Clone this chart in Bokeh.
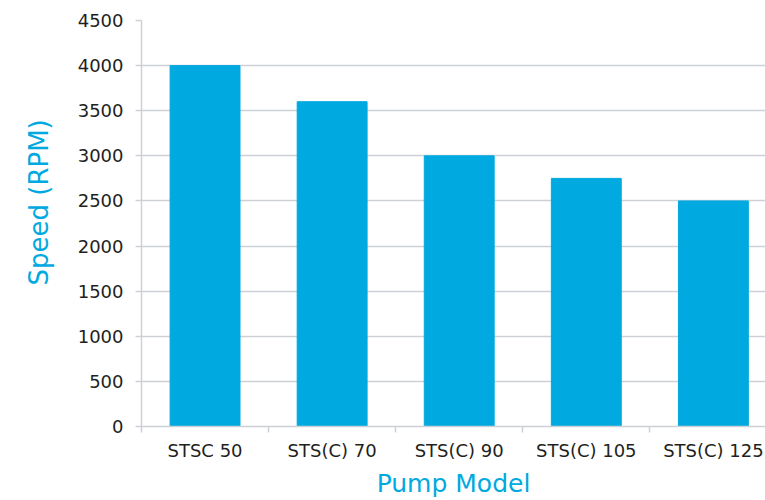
from bokeh.plotting import figure
from bokeh.models import Range1d, FixedTicker, Title
from bokeh.embed import file_html
from bokeh.resources import INLINE

models = ["STSC 50", "STS(C) 70", "STS(C) 90", "STS(C) 105", "STS(C) 125"]
speeds = [4000, 3600, 3000, 2750, 2500]
y_ticks = [0, 500, 1000, 1500, 2000, 2500, 3000, 3500, 4000, 4500]

BLUE = "#00A9E0"
GRAY = "#cdd1d6"
TXT = "#231f20"
FONT = "DejaVu Sans"

xs = list(range(len(models)))

p = figure(width=765, height=500, output_backend="svg", toolbar_location=None,
           x_range=Range1d(-0.5, 4.41), y_range=Range1d(0, 4500),
           min_border_left=140, min_border_top=20, min_border_right=0, min_border_bottom=74)
p.outline_line_color = None
p.background_fill_color = "white"
p.border_fill_color = "white"

p.vbar(x=xs, top=speeds, width=0.55, color=BLUE, line_color=BLUE)

# y axis
ya = p.yaxis[0]
ya.ticker = FixedTicker(ticks=y_ticks)
ya.axis_line_color = GRAY
ya.axis_line_width = 1.5
ya.major_tick_line_color = GRAY
ya.major_tick_line_width = 1.5
ya.major_tick_out = 6
ya.major_tick_in = 0
ya.minor_tick_line_color = None
ya.major_label_standoff = 12
ya.major_label_text_font = FONT
ya.major_label_text_font_size = "18px"
ya.major_label_text_color = TXT

ytitle = Title(text="Speed (RPM)", align="left", offset=141, standoff=42,
               text_font=FONT, text_font_size="26px", text_font_style="normal",
               text_color=BLUE)
p.add_layout(ytitle, "left")

# x axis
xa = p.xaxis[0]
xa.ticker = FixedTicker(ticks=xs, minor_ticks=[i - 0.5 for i in range(len(models) + 1)])
xa.major_label_overrides = {i: m for i, m in enumerate(models)}
xa.axis_line_color = GRAY
xa.axis_line_width = 1.5
xa.major_tick_line_color = None
xa.major_tick_out = 0
xa.major_tick_in = 0
xa.minor_tick_line_color = GRAY
xa.minor_tick_line_width = 1.5
xa.minor_tick_out = 6
xa.minor_tick_in = 0
xa.major_label_standoff = 7
xa.major_label_text_font = FONT
xa.major_label_text_font_size = "18px"
xa.major_label_text_color = TXT
xa.axis_label = "Pump Model"
xa.axis_label_text_font = FONT
xa.axis_label_text_font_size = "25px"
xa.axis_label_text_font_style = "normal"
xa.axis_label_text_color = BLUE
xa.axis_label_standoff = 5

p.xgrid.grid_line_color = None
p.ygrid.grid_line_color = GRAY
p.ygrid.grid_line_width = 1.5

open("out.html", "w").write(file_html(p, INLINE))
